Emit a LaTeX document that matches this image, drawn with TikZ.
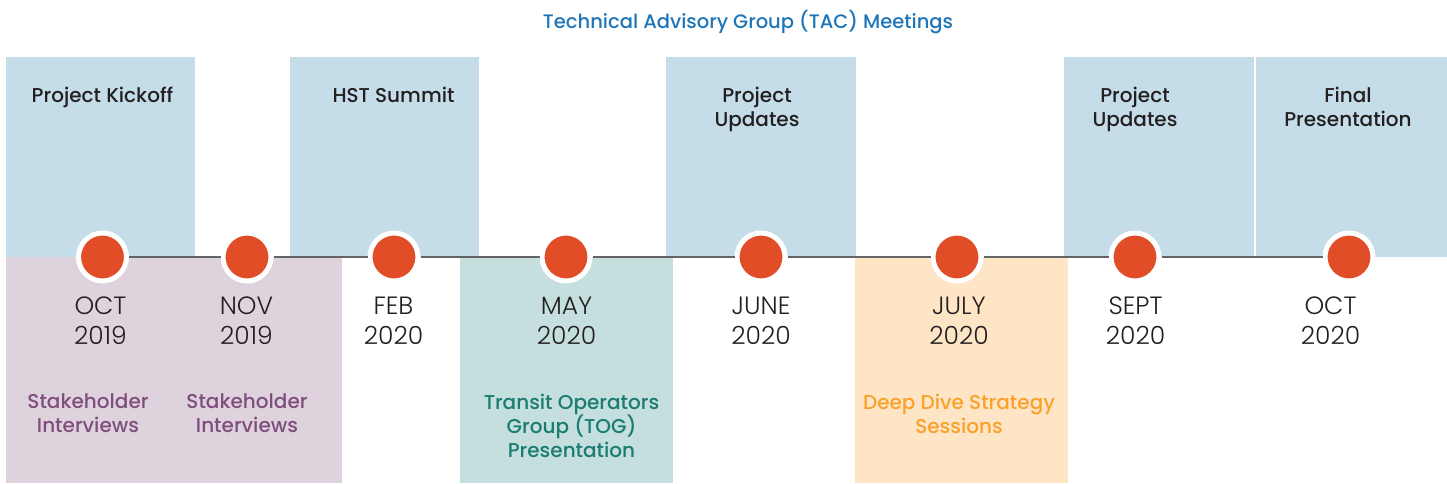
\documentclass[tikz,border=0pt]{standalone}
\usepackage{fontspec}
\setmainfont{Poppins}
\newfontfamily\labelfont{Poppins Medium}
\newfontfamily\datefont{Poppins Light}
\usepackage{xcolor}
\usetikzlibrary{positioning}

\definecolor{tacblue}{HTML}{C5DCE9}
\definecolor{stakepink}{HTML}{DED2DC}
\definecolor{togteal}{HTML}{C4DFDE}
\definecolor{diveorange}{HTML}{FDE5C6}
\definecolor{dotred}{HTML}{E14D27}
\definecolor{linegray}{HTML}{636466}
\definecolor{titleblue}{HTML}{1E76B8}
\definecolor{stakepurple}{HTML}{7F4E7F}
\definecolor{togtext}{HTML}{1B7C72}
\definecolor{divetext}{HTML}{F9A12B}
\definecolor{darktext}{HTML}{231F20}

\begin{document}
\begin{tikzpicture}[x=1pt, y=-1pt,
    milestone/.style={circle, fill=dotred, draw=white, line width=5pt, minimum size=48pt, inner sep=0pt},
    timeline/.style={linegray, line width=2.5pt},
    datelabel/.style={font=\datefont\fontsize{25}{30}\selectfont, text=darktext, align=center, inner sep=0pt, anchor=north},
    meeting/.style={font=\labelfont\fontsize{20}{24}\selectfont, text=darktext, align=center, inner sep=0pt, anchor=north},
    activity/.style={font=\labelfont\fontsize{20}{24}\selectfont, align=center, inner sep=0pt, anchor=north}]

    \useasboundingbox (0,0) rectangle (1447,483);

    % Title
    \node[font=\labelfont\fontsize{19.5}{24}\selectfont, text=titleblue, inner sep=0pt, anchor=north] (title) at (748,10.5) {Technical Advisory Group (TAC) Meetings};

    % TAC meeting boxes
    \fill[tacblue] (6,57) rectangle (195,257);
    \fill[tacblue] (290,57) rectangle (479,257);
    \fill[tacblue] (666,57) rectangle (856,257);
    \fill[tacblue] (1064,57) rectangle (1254,257);
    \fill[tacblue] (1256,57) rectangle (1447,257);

    % Outreach boxes
    \fill[stakepink] (6,257) rectangle (342,482.5);
    \fill[togteal] (460,257) rectangle (673,482.5);
    \fill[diveorange] (855,257) rectangle (1068,482.5);

    % Milestones with dates
    \foreach \n/\x/\dx/\mon/\yr in {1/102.5/100.5/OCT/2019, 2/247/246.5/NOV/2019,
        3/394/393.5/FEB/2020, 4/566/566.5/MAY/2020, 5/761/761/JUNE/2020,
        6/957/959/JULY/2020, 7/1135/1135.5/SEPT/2020, 8/1349/1330.5/OCT/2020} {
        \node[milestone] (m\n) at (\x,257) {};
        \node[datelabel] (d\n) at (\dx,297) {\mon\\\yr};
    }

    % Timeline between milestones
    \foreach \i in {1,...,7} {
        \pgfmathtruncatemacro\j{\i+1}
        \draw[timeline] (m\i) -- (m\j);
    }

    % Meeting labels
    \node[meeting] (tac1) at (102.5,87) {Project Kickoff};
    \node[meeting] (tac2) at (393.5,87) {HST Summit};
    \node[meeting] (tac3) at (757,87) {Project\\Updates};
    \node[meeting] (tac4) at (1135,87) {Project\\Updates};
    \node[meeting] (tac5) at (1348,87) {Final\\Presentation};

    % Outreach labels
    \node[activity, text=stakepurple] (act1) at (88,393.5) {Stakeholder\\Interviews};
    \node[activity, text=stakepurple] (act2) at (247,393.5) {Stakeholder\\Interviews};
    \node[activity, text=togtext] (act3) at (571.5,393.5) {Transit Operators\\Group (TOG)\\Presentation};
    \node[activity, text=divetext] (act4) at (959,393.5) {Deep Dive Strategy\\Sessions};
\end{tikzpicture}
\end{document}
